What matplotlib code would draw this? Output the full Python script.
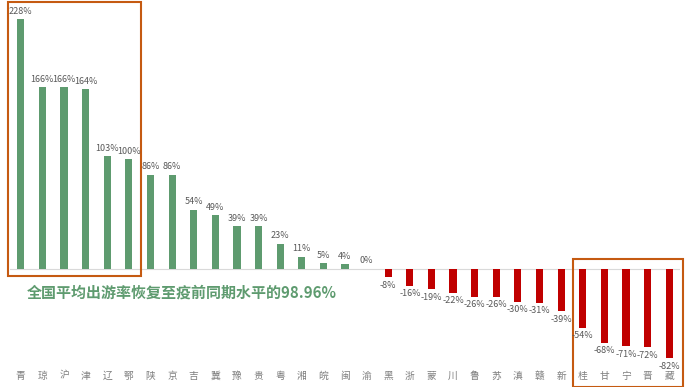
import matplotlib.pyplot as plt
from matplotlib.patches import Rectangle

plt.rcParams['font.family'] = ['Noto Sans CJK SC', 'DejaVu Sans']

provinces = ['青', '琼', '沪', '津', '辽', '鄂', '陕', '京', '吉', '冀', '豫', '贵', '粤', '湘', '皖', '闽',
             '渝', '黑', '浙', '蒙', '川', '鲁', '苏', '滇', '赣', '新', '桂', '甘', '宁', '晋', '藏']
recovery = [228, 166, 166, 164, 103, 100, 86, 86, 54, 49, 39, 39, 23, 11, 5, 4,
            0, -8, -16, -19, -22, -26, -26, -30, -31, -39, -54, -68, -71, -72, -82]
note = '全国平均出游率恢复至疫前同期水平的98.96%'

green = '#5E9B6F'
red = '#C00000'
box_color = '#C55A11'

fig = plt.figure(figsize=(6.93, 3.87), dpi=100)
ax = fig.add_axes([10 / 693, 22 / 387, 670 / 693, 360 / 387])

x = list(range(len(provinces)))
colors = [green if v >= 0 else red for v in recovery]
ax.bar(x, recovery, width=0.33, color=colors, zorder=2)
ax.axhline(0, color='#D9D9D9', lw=0.8, zorder=1)

for i, v in enumerate(recovery):
    if v >= 0:
        ax.text(i, v + 3, f'{v}%', ha='center', va='bottom', fontsize=6.5, color='#595959')
    else:
        ax.text(i, v - 3, f'{v}%', ha='center', va='top', fontsize=6.5, color='#595959')

ax.set_xlim(-0.5, len(provinces) - 0.5)
ax.set_ylim(-88, 241)
ax.set_xticks(x)
ax.set_xticklabels(provinces, fontsize=7, color='#7F7F7F')
ax.tick_params(axis='x', length=0, pad=4)
ax.set_yticks([])
for s in ax.spines.values():
    s.set_visible(False)

# highlight boxes
ax.add_patch(Rectangle((-0.6, -6.5), 6.15, 250, fill=False, ec=box_color, lw=1.5, clip_on=False))
ax.add_patch(Rectangle((25.55, -108), 5.1, 117, fill=False, ec=box_color, lw=1.5, clip_on=False))

fig.text(27 / 693, 1 - 293 / 387, note, fontsize=10.8, fontweight='bold', color=green, va='center')

fig.savefig('out.png', dpi=100)
